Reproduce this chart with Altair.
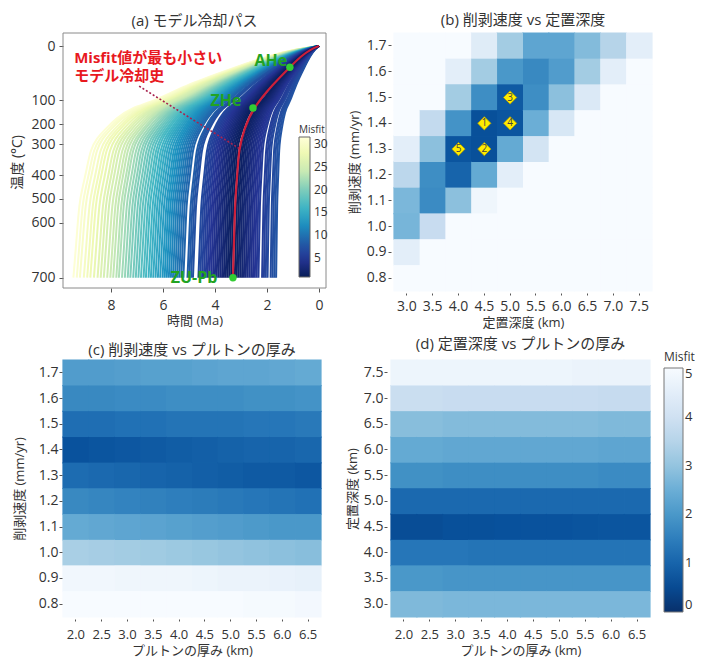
import altair as alt
import pandas as pd

FONT = "Open Sans, Noto Sans CJK JP"
TXT = "#333333"

# ---------------- (a) model cooling paths ----------------
profile_temp = [0, 6, 18.5, 39, 71, 100, 132, 175, 224, 270, 316, 381, 450, 514, 635, 700]
profile_frac = [0, 0.094, 0.208, 0.338, 0.538, 0.66, 0.767, 0.825, 0.870, 0.905, 0.930, 0.946,
                0.962, 0.976, 0.988, 1.0]

path_end = [9.45, 9.32, 9.2, 9.05, 8.92, 8.8, 8.66, 8.52, 8.4, 8.28, 8.15, 8.03, 7.92, 7.8,
            7.7, 7.58, 7.47, 7.36, 7.26, 7.15, 7.05, 6.95, 6.85, 6.75, 6.66, 6.56, 6.47, 6.38,
            6.29, 6.2, 6.11, 6.02, 5.94, 5.86, 5.78, 5.7, 5.62, 5.54, 5.46, 5.38, 5.3, 5.22,
            5.06, 4.99, 4.92, 4.85, 4.64, 4.57, 4.5, 4.43, 4.36, 4.29, 4.22, 4.15, 4.08, 4.01,
            3.94, 3.87, 3.8, 3.73, 3.66, 3.59, 3.52, 3.45, 3.38, 3.24, 3.17, 3.1, 3.03, 2.96,
            2.89, 2.82, 2.75, 2.68, 2.61, 2.54, 2.47, 2.4, 2.33, 2.19, 2.12, 2.05, 1.98, 1.86,
            1.79, 1.72, 1.65]
path_misfit = [31, 30.5, 30, 29.3, 28.7, 28, 27.3, 26.7, 26, 25.4, 24.8, 24.2, 23.6, 23,
               22.4, 21.8, 21.2, 20.6, 20, 19.4, 18.8, 18.2, 17.6, 17, 16.5, 16, 15.5, 15,
               14.5, 14, 13.5, 13, 12.6, 12.2, 11.8, 11.4, 11, 10.6, 10.2, 9.8, 9.4, 9.0,
               8.4, 8.0, 7.6, 7.2, 6.6, 6.3, 6.0, 5.7, 5.4, 5.1, 4.8, 4.5, 4.2, 3.9,
               3.6, 3.3, 3.0, 2.7, 2.4, 2.1, 1.8, 1.5, 1.3, 1.4, 1.7, 2.0, 2.3, 2.6,
               2.9, 3.2, 3.5, 3.8, 4.1, 4.4, 4.7, 5.0, 5.3, 5.6, 5.9, 6.2, 6.5, 6.8,
               7.1, 7.4, 7.7]

best_time = [0, 0.31, 0.69, 1.12, 1.78, 2.54, 2.88, 3.08, 3.13, 3.23, 3.27, 3.31]
best_temp = [0, 6, 18.5, 39, 71, 132, 224, 316, 381, 514, 635, 700]

marker_name = ["AHe", "ZHe", "ZU-Pb"]
marker_time = [1.12, 2.54, 3.31]
marker_temp = [39, 132, 700]
label_time = [1.85, 3.58, 4.81]
label_temp = [28, 104, 700]

note_lines = ["Misfit値が最も小さい", "モデル冷却史"]
note_time = [9.42, 9.42]
note_temp = [22, 56]
pointer_time = [6.92, 3.08]
pointer_temp = [74, 313]

temp_ticks = [0, 100, 200, 300, 400, 500, 600, 700]
time_ticks = [0, 2, 4, 6, 8]
misfit_a_ticks = [5, 10, 15, 20, 25, 30]

# ---------------- heatmap data ----------------
depth_labels = ["3.0", "3.5", "4.0", "4.5", "5.0", "5.5", "6.0", "6.5", "7.0", "7.5"]
rate_labels = ["1.7", "1.6", "1.5", "1.4", "1.3", "1.2", "1.1", "1.0", "0.9", "0.8"]
thick_labels = ["2.0", "2.5", "3.0", "3.5", "4.0", "4.5", "5.0", "5.5", "6.0", "6.5"]
depth_desc = ["7.5", "7.0", "6.5", "6.0", "5.5", "5.0", "4.5", "4.0", "3.5", "3.0"]

# (b) rows: rate 1.7 -> 0.8, columns depth 3.0 -> 7.5
b_rows = [
    [5, 5, 5, 4.4, 3.2, 2.3, 2.3, 2.8, 3.5, 4.5],
    [5, 5, 4.5, 3.2, 2.0, 1.7, 2.1, 3.2, 4.5, 5],
    [5, 5, 3.2, 1.8, 0.8, 1.8, 2.9, 4.3, 5, 5],
    [5, 3.7, 1.9, 0.6, 0.7, 2.5, 4.2, 5, 5, 5],
    [4.5, 2.9, 0.7, 0.6, 2.4, 4.1, 5, 5, 5, 5],
    [3.6, 1.8, 1.0, 2.4, 4.5, 5, 5, 5, 5, 5],
    [2.7, 1.75, 2.9, 4.8, 5, 5, 5, 5, 5, 5],
    [2.65, 3.8, 5, 5, 5, 5, 5, 5, 5, 5],
    [4.5, 5, 5, 5, 5, 5, 5, 5, 5, 5],
    [5, 5, 5, 5, 5, 5, 5, 5, 5, 5],
]
rank_label = ["1", "2", "3", "4", "5"]
rank_depth = ["4.5", "4.5", "5.0", "5.0", "4.0"]
rank_rate = ["1.4", "1.3", "1.5", "1.4", "1.3"]

# (c) rows: rate 1.7 -> 0.8, columns thickness 2.0 -> 6.5
c_rows = [
    [2.1, 2.1, 2.15, 2.2, 2.2, 2.25, 2.3, 2.3, 2.35, 2.4],
    [1.7, 1.7, 1.75, 1.75, 1.8, 1.8, 1.8, 1.85, 1.85, 1.9],
    [1.2, 1.2, 1.25, 1.25, 1.3, 1.3, 1.3, 1.35, 1.35, 1.4],
    [0.65, 0.7, 0.75, 0.8, 0.85, 0.9, 0.95, 1.0, 1.0, 1.05],
    [1.15, 1.1, 1.05, 1.0, 0.95, 0.9, 0.85, 0.8, 0.8, 0.75],
    [1.7, 1.65, 1.6, 1.55, 1.5, 1.45, 1.4, 1.35, 1.3, 1.25],
    [2.4, 2.35, 2.3, 2.25, 2.2, 2.15, 2.1, 2.05, 2.0, 2.0],
    [3.3, 3.25, 3.2, 3.15, 3.1, 3.05, 3.0, 2.95, 2.9, 2.85],
    [4.85, 4.85, 4.8, 4.8, 4.8, 4.75, 4.7, 4.7, 4.65, 4.6],
    [5, 5, 5, 5, 5, 5, 5, 4.95, 4.95, 4.9],
]

# (d) rows: depth 7.5 -> 3.0, columns thickness 2.0 -> 6.5
d_rows = [
    [4.75, 4.75, 4.75, 4.75, 4.75, 4.75, 4.75, 4.7, 4.7, 4.7],
    [3.85, 3.85, 3.8, 3.8, 3.8, 3.8, 3.8, 3.8, 3.75, 3.75],
    [2.85, 2.85, 2.8, 2.8, 2.8, 2.8, 2.8, 2.8, 2.75, 2.75],
    [2.4, 2.4, 2.35, 2.35, 2.35, 2.35, 2.35, 2.35, 2.3, 2.3],
    [1.85, 1.85, 1.8, 1.8, 1.8, 1.8, 1.8, 1.8, 1.75, 1.75],
    [1.1, 1.1, 1.1, 1.1, 1.1, 1.1, 1.1, 1.1, 1.1, 1.1],
    [0.55, 0.55, 0.6, 0.6, 0.62, 0.65, 0.65, 0.68, 0.7, 0.7],
    [1.35, 1.35, 1.35, 1.3, 1.3, 1.3, 1.3, 1.3, 1.3, 1.3],
    [2.0, 2.0, 1.95, 1.95, 1.95, 1.95, 1.95, 1.95, 1.95, 1.95],
    [2.75, 2.75, 2.7, 2.7, 2.7, 2.7, 2.7, 2.7, 2.7, 2.7],
]

# colour maps (matplotlib YlGnBu / Blues, reversed)
ylgnbu_r = ["#081d58", "#253494", "#225ea8", "#1d91c0", "#41b6c4",
            "#7fcdbb", "#c7e9b4", "#edf8b1", "#ffffd9"]
ylgnbu_stops = [0.85, 4.68, 8.51, 12.34, 16.18, 20.01, 23.84, 27.67, 31.5]
blues_r = ["#08306b", "#08519c", "#2171b5", "#4292c6", "#6baed6",
           "#9ecae1", "#c6dbef", "#deebf7", "#f7fbff"]
blues_stops = [0, 0.625, 1.25, 1.875, 2.5, 3.125, 3.75, 4.375, 5]

# ---------------- build frames ----------------
rows = []
for i in sorted(range(len(path_end)), key=lambda k: -path_misfit[k]):
    for T, f in zip(profile_temp, profile_frac):
        rows.append({"path": i, "time": path_end[i] * f, "temp": T, "misfit_a": path_misfit[i]})
df_paths = pd.DataFrame(rows)
df_best = pd.DataFrame({"time": best_time, "temp": best_temp})
df_mark = pd.DataFrame({"name": marker_name, "time": marker_time, "temp": marker_temp})
df_lab = pd.DataFrame({"name": marker_name, "time": label_time, "temp": label_temp})
df_note = pd.DataFrame({"txt": note_lines, "time": note_time, "temp": note_temp})
df_ptr = pd.DataFrame({"time": pointer_time, "temp": pointer_temp})
df_one = pd.DataFrame({"k": [0]})


def grid(rows_, ylabels, xlabels, yname, xname):
    out = []
    for yl, r in zip(ylabels, rows_):
        for xl, v in zip(xlabels, r):
            out.append({yname: yl, xname: xl, "misfit": v})
    return pd.DataFrame(out)


df_b = grid(b_rows, rate_labels, depth_labels, "rate", "depth")
df_c = grid(c_rows, rate_labels, thick_labels, "rate", "thick")
df_d = grid(d_rows, depth_desc, thick_labels, "depth", "thick")
df_rank = pd.DataFrame({"label": rank_label, "depth": rank_depth, "rate": rank_rate})

# ---------------- panel (a) ----------------
temp_pix = [13, 67.3, 91.3, 111.3, 142.3, 165.7, 189.7, 244.7]
xa = alt.X("time:Q",
           scale=alt.Scale(domain=[-0.27, 9.85], reverse=True, nice=False, zero=False),
           axis=alt.Axis(values=time_ticks, format="d", title="時間 (Ma)", tickSize=4,
                         labelPadding=6, titlePadding=2, labelFontSize=14, titleFontSize=13))
ya = alt.Y("temp:Q",
           scale=alt.Scale(domain=temp_ticks, range=temp_pix, nice=False, zero=False),
           axis=alt.Axis(values=temp_ticks, title="温度 (°C)", tickSize=4, labelPadding=4,
                         titlePadding=6, labelFontSize=14, titleFontSize=14))

paths = alt.Chart(df_paths).mark_line(strokeWidth=2, interpolate="basis").encode(
    x=xa, y=ya, detail="path:N", order="temp:Q",
    color=alt.Color("misfit_a:Q",
                    scale=alt.Scale(domain=ylgnbu_stops, range=ylgnbu_r, interpolate="rgb"),
                    legend=alt.Legend(type="gradient", orient="none", legendX=236, legendY=92,
                                      title="Misfit", titleFontSize=10,
                                      titleFontWeight="normal",
                                      labelFontSize=12, gradientLength=140,
                                      gradientThickness=11, values=misfit_a_ticks,
                                      direction="vertical", gradientStrokeColor="#666",
                                      gradientStrokeWidth=1, titlePadding=2, labelOffset=4,
                                      titleFont=FONT, labelFont=FONT, labelColor=TXT,
                                      titleColor=TXT)))
best = alt.Chart(df_best).mark_line(color="#cc1f3a", strokeWidth=2.2,
                                     interpolate="basis").encode(x=xa, y=ya, order="temp:Q")
ptr = alt.Chart(df_ptr).mark_line(color="#a8234f", strokeWidth=1.6,
                                   strokeDash=[2, 2]).encode(x=xa, y=ya)
pts = alt.Chart(df_mark).mark_circle(color="#33cc33", size=55, opacity=1).encode(x=xa, y=ya)
labs = alt.Chart(df_lab).mark_text(color="#22a322", fontSize=16, fontWeight="bold",
                                    font=FONT).encode(x=xa, y=ya, text="name:N")
note = alt.Chart(df_note).mark_text(color="#e8191f", fontSize=15, fontWeight="bold",
                                     font=FONT, align="left").encode(x=xa, y=ya, text="txt:N")
frame = alt.Chart(df_one).mark_rect(fillOpacity=0, stroke="#8a8a8a", strokeWidth=1).encode(
    x=alt.value(0), x2=alt.value("width"), y=alt.value(0), y2=alt.value("height"))

panel_a = alt.layer(paths, best, ptr, pts, labs, note, frame).properties(
    width=263, height=255,
    title=alt.TitleParams("(a) モデル冷却パス", fontSize=15, fontWeight="normal", font=FONT,
                          color=TXT, offset=4, anchor="middle", lineHeight=15))

# ---------------- heatmaps ----------------
blues = alt.Scale(domain=blues_stops, range=blues_r, interpolate="rgb")


def heat(df, xf, xsort, xtitle, yf, ysort, ytitle, legend, xaxis_kw, yaxis_kw, xfs=14):
    xe = alt.X(f"{xf}:O", sort=xsort, scale=alt.Scale(paddingInner=0, paddingOuter=0),
               axis=alt.Axis(title=xtitle, labelAngle=0, labelFontSize=xfs,
                             titleFontSize=13, **xaxis_kw))
    ye = alt.Y(f"{yf}:O", sort=ysort, scale=alt.Scale(paddingInner=0, paddingOuter=0),
               axis=alt.Axis(title=ytitle, labelFontSize=14, titleFontSize=13, **yaxis_kw))
    # under-layer of cell outlines in the cell colour hides anti-aliased seams
    edge = alt.Chart(df).mark_rect(fillOpacity=0, strokeWidth=1.2).encode(
        x=xe, y=ye, stroke=alt.Stroke("misfit:Q", scale=blues, legend=None))
    cell = alt.Chart(df).mark_rect().encode(
        x=xe, y=ye, color=alt.Color("misfit:Q", scale=blues, legend=legend))
    return [edge, cell]


hb = heat(df_b, "depth", depth_labels, "定置深度 (km)", "rate", rate_labels, "削剥速度 (mm/yr)",
          None, dict(offset=2, tickSize=2, labelPadding=4, titlePadding=3),
          dict(offset=3, tickSize=3, labelPadding=2, titlePadding=5))
dia = alt.Chart(df_rank).mark_point(shape="diamond", filled=True, size=175, fill="#ffec00",
                                     stroke="#b9a300", strokeWidth=0.8, opacity=1).encode(
    x=alt.X("depth:O", sort=depth_labels), y=alt.Y("rate:O", sort=rate_labels))
num = alt.Chart(df_rank).mark_text(fontSize=10, color="#444", font=FONT).encode(
    x=alt.X("depth:O", sort=depth_labels), y=alt.Y("rate:O", sort=rate_labels), text="label:N")
panel_b = alt.layer(*hb, dia, num).properties(
    width=258, height=258,
    title=alt.TitleParams("(b) 削剥速度 vs 定置深度", fontSize=15, fontWeight="normal",
                          font=FONT, color=TXT, offset=4, anchor="middle", lineHeight=15))

hc = heat(df_c, "thick", thick_labels, "プルトンの厚み (km)", "rate", rate_labels,
          "削剥速度 (mm/yr)", None,
          dict(offset=2, tickSize=2, labelPadding=7, titlePadding=3),
          dict(offset=1, tickSize=3, labelPadding=1, titlePadding=12), xfs=13)
panel_c = alt.layer(*hc).properties(
    width=258, height=257,
    title=alt.TitleParams("(c) 削剥速度 vs プルトンの厚み", fontSize=15, fontWeight="normal",
                          font=FONT, color=TXT, offset=1, anchor="middle", lineHeight=15))

legend_d = alt.Legend(type="gradient", orient="none", legendX=273, legendY=-8, title="Misfit",
                      titleFontSize=12, titleFontWeight="normal", labelFontSize=13,
                      gradientLength=244, gradientThickness=19, values=[0, 1, 2, 3, 4, 5],
                      direction="vertical", gradientStrokeColor="#777", gradientStrokeWidth=1,
                      titlePadding=4, labelOffset=2, titleFont=FONT, labelFont=FONT,
                      labelColor=TXT, titleColor=TXT)
hd = heat(df_d, "thick", thick_labels, "プルトンの厚み (km)", "depth", depth_desc,
          "定置深度 (km)", legend_d,
          dict(offset=2, tickSize=2, labelPadding=7, titlePadding=3),
          dict(offset=4, tickSize=3, labelPadding=1, titlePadding=4), xfs=13)
panel_d = alt.layer(*hd).properties(
    width=259, height=257,
    title=alt.TitleParams("(d) 定置深度 vs プルトンの厚み", fontSize=15, fontWeight="normal",
                          font=FONT, color=TXT, offset=0, anchor="middle", lineHeight=15))

row1 = alt.hconcat(panel_a, panel_b, spacing=20).resolve_scale(color="independent")
row2 = alt.hconcat(panel_c, panel_d, spacing=24).resolve_scale(color="independent")
chart = alt.vconcat(row1, row2, spacing=8).resolve_scale(color="independent").properties(
    padding={"left": 2, "top": 5, "right": 0, "bottom": 0}, background="white"
).configure_view(stroke=None).configure_axis(
    labelFont=FONT, titleFont=FONT, labelColor=TXT, titleColor=TXT,
    titleFontWeight="normal", grid=False, domain=False, tickColor="#555"
).configure_text(font=FONT)

chart.save("out.html", embed_options={"renderer": "svg", "actions": False})
